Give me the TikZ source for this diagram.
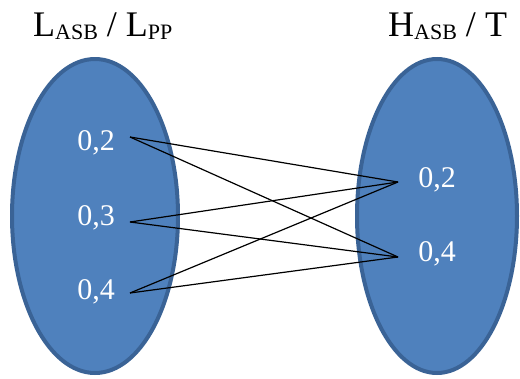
\documentclass[tikz,border=0pt]{standalone}
\usepackage{fontspec}
\setmainfont{Liberation Serif}
\definecolor{setfill}{HTML}{4F81BD}
\definecolor{setborder}{HTML}{3A6396}
\newcommand{\subtxt}[1]{\raisebox{-3pt}{\fontsize{22}{22}\selectfont #1}}
\begin{document}
\begin{tikzpicture}[x=1pt,y=-1pt,
  num/.style={text=white, font=\fontsize{30}{32}\selectfont, inner sep=0pt},
  ttl/.style={text=black, font=\fontsize{36}{40}\selectfont, anchor=base west, inner sep=0pt},
  link/.style={black, line width=1.2pt}]
\useasboundingbox (0,0) rectangle (520,378);
\draw[fill=setfill, draw=setborder, line width=4pt] (95,216) ellipse [x radius=83, y radius=157];
\draw[fill=setfill, draw=setborder, line width=4pt] (437,216) ellipse [x radius=80, y radius=157];
\node[ttl] (t1) at (33,36) {L\subtxt{ASB} / L\subtxt{PP}};
\node[ttl] (t2) at (388,36) {H\subtxt{ASB} / T};
\node[num] (a2) at (96,143) {0,2};
\node[num] (a3) at (96,218) {0,3};
\node[num] (a4) at (96,292) {0,4};
\node[num] (b2) at (437,180) {0,2};
\node[num] (b4) at (437,254) {0,4};
\coordinate (la2) at (130,137);
\coordinate (la3) at (130,222);
\coordinate (la4) at (130,293);
\coordinate (rb2) at (398,182);
\coordinate (rb4) at (398,257);
\foreach \s in {la2,la3,la4}{
  \draw[link] (\s) -- (rb2);
  \draw[link] (\s) -- (rb4);
}
\end{tikzpicture}
\end{document}
